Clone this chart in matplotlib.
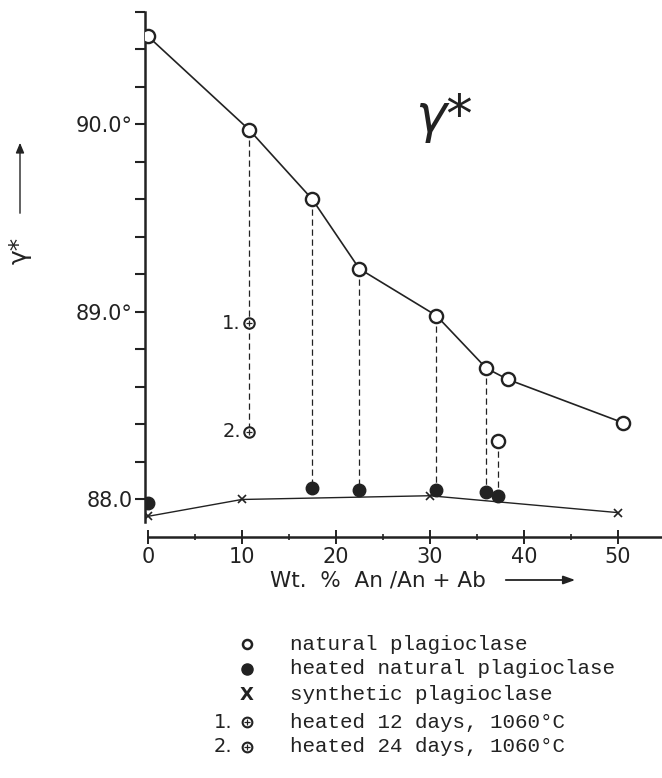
import matplotlib
matplotlib.use("Agg")
import matplotlib.pyplot as plt
import numpy as np

# natural plagioclase (open circles, joined)
nat_x = [0, 10.8, 17.5, 22.5, 30.7, 36.0, 38.3, 50.5]
nat_y = [90.47, 89.97, 89.60, 89.23, 88.98, 88.70, 88.64, 88.41]
# extra natural point, not on the curve
extra_x = [37.2]
extra_y = [88.31]
# heated natural plagioclase (filled)
heat_x = [0, 17.5, 22.5, 30.7, 36.0, 37.2]
heat_y = [87.98, 88.06, 88.05, 88.05, 88.04, 88.02]
# synthetic plagioclase
syn_x = [0, 10, 30, 50]
syn_y = [87.91, 88.00, 88.02, 87.93]
# heated 12 / 24 days
hold_x = [10.8, 10.8]
hold_y = [88.94, 88.36]
hold_lab = ["1.", "2."]

yticks = [88.0, 89.0, 90.0]
ytick_lab = ["88.0", "89.0°", "90.0°"]
xticks = [0, 10, 20, 30, 40, 50]

legend_lab = ["natural plagioclase", "heated natural plagioclase",
              "synthetic plagioclase", "heated 12 days, 1060°C",
              "heated 24 days, 1060°C"]

W, H = 662, 778
fig = plt.figure(figsize=(W / 100, H / 100), dpi=100)
ax = fig.add_axes([145 / W, 1 - 537 / H, (W - 145) / W, 529 / H])
ax.set_xlim(-0.3, 54.7)
ax.set_ylim(87.8, 90.62)

lw = 1.2
ink = "#222222"

# dashed links
pairs = [((nat_x[1], nat_y[1]), (hold_x[0], hold_y[0])),
         ((hold_x[0], hold_y[0]), (hold_x[1], hold_y[1]))]
for i in range(4):
    pairs.append(((nat_x[i + 2], nat_y[i + 2]), (heat_x[i + 1], heat_y[i + 1])))
pairs.append(((extra_x[0], extra_y[0]), (heat_x[5], heat_y[5])))
for (x0, y0), (x1, y1) in pairs:
    ax.plot([x0, x1], [y0, y1], color=ink, lw=0.9, ls=(0, (5, 3)), zorder=1)

ax.plot(nat_x, nat_y, color=ink, lw=lw, zorder=2)
ax.plot(syn_x, syn_y, color=ink, lw=1.0, zorder=2)
ax.plot(syn_x, syn_y, ls="none", marker="x", ms=6, mew=1.2, color=ink, zorder=3)
ax.plot(heat_x, heat_y, ls="none", marker="o", ms=9, color=ink, zorder=4)
ax.plot(nat_x + extra_x, nat_y + extra_y, ls="none", marker="o", ms=9.5,
        mfc="white", mec=ink, mew=1.7, zorder=5)
ax.plot(hold_x, hold_y, ls="none", marker="o", ms=7.5, mfc="white",
        mec=ink, mew=1.5, zorder=5)
ax.plot(hold_x, hold_y, ls="none", marker="+", ms=5, mew=0.9, color=ink, zorder=6)
for x, y, t in zip(hold_x, hold_y, hold_lab):
    ax.text(x - 0.9, y, t, ha="right", va="center", fontsize=14, color=ink)

ax.text(31.5, 90.04, "γ*", fontsize=38, color=ink, style="italic",
        ha="center", va="center")

# axes styling
for s in ["top", "right"]:
    ax.spines[s].set_visible(False)
ax.spines["left"].set_bounds(87.88, 90.6)
ax.spines["bottom"].set_bounds(0, 54.7)
ax.spines["left"].set_linewidth(1.8)
ax.spines["bottom"].set_linewidth(1.8)
ax.spines["left"].set_color(ink)
ax.spines["bottom"].set_color(ink)

ax.set_yticks(yticks)
ax.set_yticklabels(ytick_lab, fontsize=15, color=ink)
ax.set_yticks(np.arange(88.2, 90.61, 0.2), minor=True)
ax.tick_params(axis="y", which="both", direction="out", length=7,
               width=1.5, color=ink, pad=2)
ax.set_xticks(xticks)
ax.set_xticklabels([str(v) for v in xticks], fontsize=15, color=ink)
ax.set_xticks([5, 15, 25, 35, 45], minor=True)
ax.tick_params(axis="x", which="major", direction="inout", length=10,
               width=1.4, color=ink, pad=2)
ax.tick_params(axis="x", which="minor", direction="inout", length=5,
               width=1.2, color=ink)

# axis titles
fig.text(378 / W, 1 - 580 / H, "Wt.  %  An /An + Ab", fontsize=15.5,
         ha="center", va="center", color=ink)
fig.add_artist(matplotlib.patches.FancyArrowPatch(
    (503 / W, 1 - 580 / H), (578 / W, 1 - 580 / H), transform=fig.transFigure,
    arrowstyle="-|>,head_length=7,head_width=2.5", color=ink, lw=1.3))
fig.text(20 / W, 1 - 250 / H, "γ*", fontsize=18, rotation=90,
         ha="center", va="center", color=ink)
fig.add_artist(matplotlib.patches.FancyArrowPatch(
    (20 / W, 1 - 216 / H), (20 / W, 1 - 140 / H), transform=fig.transFigure,
    arrowstyle="-|>,head_length=6,head_width=2.5", color=ink, lw=1.0))

# legend block
rows = [644, 669, 695, 722, 747]
lax = fig.add_axes([0, 0, 1, 1], facecolor="none")
lax.set_xlim(0, W)
lax.set_ylim(H, 0)
lax.axis("off")
lax.plot([247], [rows[0]], "o", ms=6.5, mfc="white", mec=ink, mew=1.8)
lax.plot([247], [rows[1]], "o", ms=8, color=ink)
lax.text(247, rows[2], "X", fontsize=13, fontweight="bold", ha="center",
         va="center", color=ink)
for r, t in zip(rows[3:], hold_lab):
    lax.plot([247], [r], "o", ms=7, mfc="white", mec=ink, mew=1.5)
    lax.plot([247], [r], "+", ms=4, mew=0.9, color=ink)
    lax.text(232, r, t, fontsize=14, ha="right", va="center", color=ink)
for r, t in zip(rows, legend_lab):
    lax.text(290, r, t, fontsize=15, family="Liberation Mono", ha="left",
             va="center", color=ink)

fig.savefig("out.png", dpi=100, facecolor="white")
